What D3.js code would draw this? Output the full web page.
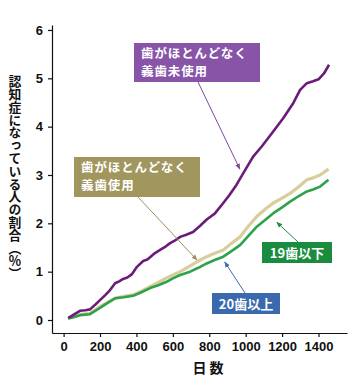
<!DOCTYPE html>
<html><head><meta charset="utf-8">
<script src="https://cdn.jsdelivr.net/npm/d3@7"></script>
<style>body{margin:0;background:#fff}svg{display:block}</style>
</head><body><svg id="c" width="355" height="380"></svg>
<script>
// ---- data (day, cumulative % with dementia) ----
const seriesNames = ["歯がほとんどなく義歯使用", "19歯以下", "歯がほとんどなく義歯未使用"];
const beigeDays = [25,60,90,145,200,240,283,330,382,430,475,520,566,600,640,695,740,786,830,877,920,969,1010,1061,1110,1152,1200,1244,1290,1336,1370,1409,1455];
const beigeVals = [0.04,0.08,0.11,0.14,0.28,0.36,0.45,0.49,0.52,0.6,0.69,0.78,0.87,0.93,1.0,1.12,1.22,1.31,1.38,1.45,1.58,1.72,1.92,2.14,2.3,2.42,2.52,2.62,2.75,2.9,2.94,3.0,3.12];
const greenDays = [25,60,90,145,200,240,283,330,382,430,475,520,566,600,640,695,740,786,830,877,920,969,1010,1061,1110,1152,1200,1244,1290,1336,1370,1409,1455];
const greenVals = [0.03,0.06,0.1,0.12,0.25,0.35,0.45,0.47,0.5,0.58,0.66,0.72,0.79,0.86,0.93,1.0,1.08,1.17,1.24,1.31,1.42,1.55,1.72,1.93,2.08,2.21,2.33,2.45,2.56,2.66,2.7,2.76,2.9];
const purpleDays = [25,60,90,120,145,175,200,230,255,283,305,327,350,376,403,437,460,475,500,530,560,585,610,640,670,711,750,786,830,877,910,950,987,1041,1088,1143,1207,1262,1299,1336,1370,1400,1430,1458];
const purpleVals = [0.04,0.12,0.19,0.2,0.22,0.32,0.41,0.52,0.62,0.76,0.8,0.85,0.88,0.95,1.1,1.22,1.25,1.3,1.38,1.45,1.52,1.59,1.64,1.72,1.76,1.82,1.95,2.08,2.2,2.42,2.58,2.8,3.04,3.38,3.59,3.86,4.18,4.49,4.76,4.9,4.94,4.98,5.1,5.28];
const xTicks = [0,200,400,600,800,1000,1200,1400];
const yTicks = [0,1,2,3,4,5,6];
const xTitle = "日 数";
const yTitle = "認知症になっている人の割合（％）";
// annotations: label lines, arrow target (data coords)
const annPurple = {lines:["歯がほとんどなく","義歯未使用"], target:[968,3.12]};
const annBeige  = {lines:["歯がほとんどなく","義歯使用"], target:[733,1.24]};
const annGreen  = {lines:["19歯以下"], target:[1171,2.02]};
const annBlue   = {lines:["20歯以上"], target:[885,1.2]};

const svg = d3.select("#c");
const x = d3.scaleLinear().domain([-63.7,1556.5]).range([52,347]);
const y = d3.scaleLinear().domain([-0.269,6.103]).range([333,25]);
const tickFont = "'Liberation Sans', Arial, sans-serif";
const jpFont = "'Noto Sans CJK JP', sans-serif";

// defs: arrow markers
const defs = svg.append("defs");
function marker(id,color){
  defs.append("marker").attr("id",id).attr("viewBox","0 0 10 10").attr("refX",9).attr("refY",5)
    .attr("markerWidth",6).attr("markerHeight",6).attr("orient","auto-start-reverse")
    .append("path").attr("d","M0,1 L10,5 L0,9 z").attr("fill",color);
}
marker("mP","#7d4a9a"); marker("mB","#9a8f5c"); marker("mG","#1f8a3e"); marker("mL","#3a69ad");

// axes
const fmt = d3.format("d");
const gx = svg.append("g").attr("transform","translate(0,333)")
  .call(d3.axisBottom(x).tickValues(xTicks).tickFormat(fmt).tickSize(4).tickPadding(5).tickSizeOuter(0));
const gy = svg.append("g").attr("transform","translate(52,0)")
  .call(d3.axisLeft(y).tickValues(yTicks).tickFormat(fmt).tickSize(4).tickPadding(5).tickSizeOuter(0));
[gx,gy].forEach(g=>{
  g.selectAll("path,line").attr("stroke","#111").attr("stroke-width",1.2);
  g.selectAll("text").attr("font-family",tickFont).attr("font-weight","bold").attr("font-size",13).attr("fill","#111");
});

// titles
svg.append("text").attr("x",208).attr("y",373).attr("text-anchor","middle")
  .attr("font-family",jpFont).attr("font-weight","bold").attr("font-size",14).attr("fill","#111").text(xTitle);
svg.append("text").attr("x",15).attr("y",75)
  .attr("style","writing-mode:vertical-rl;")
  .attr("font-family",jpFont).attr("font-weight","bold").attr("font-size",12.8).attr("fill","#111")
  .text(yTitle);

// lines
const line = d3.line().x(d=>x(d[0])).y(d=>y(d[1])).curve(d3.curveLinear);
const mk = (ds,vs)=>ds.map((d,i)=>[d,vs[i]]);
svg.append("path").datum(mk(beigeDays,beigeVals)).attr("d",line).attr("fill","none")
  .attr("stroke","#d8cd9c").attr("stroke-width",3.2).attr("stroke-linejoin","round");
svg.append("path").datum(mk(greenDays,greenVals)).attr("d",line).attr("fill","none")
  .attr("stroke","#2da24b").attr("stroke-width",2.6).attr("stroke-linejoin","round");
svg.append("path").datum(mk(purpleDays,purpleVals)).attr("d",line).attr("fill","none")
  .attr("stroke","#6a1d78").attr("stroke-width",2.6).attr("stroke-linejoin","round");

// annotation boxes
function box(ann, bx, by, bw, bh, fill, tx, base, anchor, from, mId, aColor, fs, ls){
  const g = svg.append("g");
  g.append("rect").attr("x",bx).attr("y",by).attr("width",bw).attr("height",bh).attr("fill",fill);
  const t = g.append("text").attr("x",tx).attr("y",base).attr("text-anchor",anchor)
    .attr("font-family",jpFont).attr("font-weight","bold").attr("font-size",fs)
    .attr("letter-spacing",ls).attr("fill","#fff");
  ann.lines.forEach((s,i)=>{
    t.append("tspan").attr("x",tx).attr("dy", i===0?0:18.2).text(s);
  });
  svg.append("line").attr("x1",from[0]).attr("y1",from[1])
    .attr("x2",x(ann.target[0])).attr("y2",y(ann.target[1]))
    .attr("stroke",aColor).attr("stroke-width",1).attr("marker-end",`url(#${mId})`);
}
box(annPurple,134,43,126,39,"#8754a8",141,57.5,"start",[198,82],"mP","#7d4a9a",12.5,0.9);
box(annBeige,74,157,126,40,"#a0965e",81,171.5,"start",[138,197],"mB","#9a8f5c",12.5,0.9);
box(annGreen,262,242,70,21,"#1a8c3f",297,257.5,"middle",[298,242],"mG","#1f8a3e",13,0);
box(annBlue,212,293,68,21,"#3b69ae",246,308.5,"middle",[245,293],"mL","#3a69ad",13,0);
</script></body></html>
